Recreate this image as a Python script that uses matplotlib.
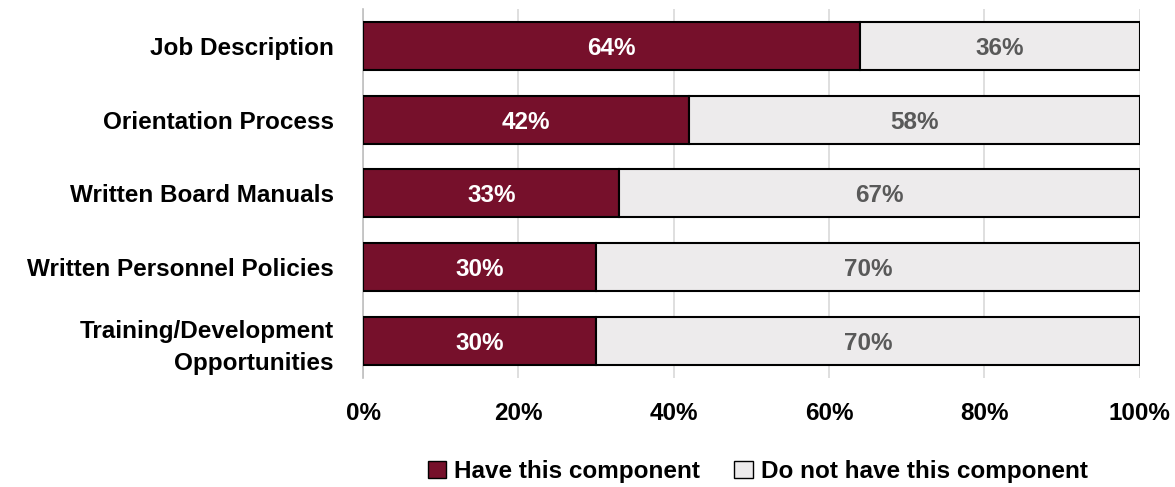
import numpy as np
import matplotlib.pyplot as plt
from matplotlib.patches import Patch

# Board orientation components (share of organisations)
categories = ['Job Description', 'Orientation Process', 'Written Board Manuals',
              'Written Personnel Policies', 'Training/Development\nOpportunities']
have = [64, 42, 33, 30, 30]
have_not = [36, 58, 67, 70, 70]
series_names = ['Have this component', 'Do not have this component']

plt.rcParams['font.family'] = ['Liberation Sans', 'DejaVu Sans']
plt.rcParams['font.weight'] = 'bold'

maroon = '#76102B'
light = '#EDEBEC'
fs = 17.5

fig = plt.figure(figsize=(11.75, 4.87), dpi=100)
ax = fig.add_axes([0.309, 0.224, 0.661, 0.758])

y = np.arange(len(categories))
bar_h = 0.65
b1 = ax.barh(y, have, height=bar_h, color=maroon, edgecolor='black', linewidth=1.5, zorder=3)
b2 = ax.barh(y, have_not, left=have, height=bar_h, color=light, edgecolor='black', linewidth=1.5, zorder=3)

for rect, v in zip(b1, have):
    ax.text(rect.get_x() + rect.get_width() / 2, rect.get_y() + rect.get_height() / 2,
            f'{v}%', ha='center', va='center_baseline', color='white', fontsize=fs,
            fontweight='bold', zorder=4)
for rect, v in zip(b2, have_not):
    ax.text(rect.get_x() + rect.get_width() / 2, rect.get_y() + rect.get_height() / 2,
            f'{v}%', ha='center', va='center_baseline', color='#595959', fontsize=fs,
            fontweight='bold', zorder=4)

ax.set_xlim(0, 100)
ax.set_ylim(len(categories) - 0.5, -0.5)
ax.set_xticks(np.arange(0, 101, 20))
ax.set_xticklabels([f'{t}%' for t in range(0, 101, 20)], fontsize=fs, fontweight='bold')
ax.set_yticks(y)
ax.set_yticklabels(categories, fontsize=fs, fontweight='bold', linespacing=1.45)
ax.tick_params(axis='y', length=0, pad=21)
ax.tick_params(axis='x', length=0, pad=17)

ax.grid(axis='x', color='#D9D9D9', linewidth=1.2, zorder=0)
for s in ['top', 'right', 'bottom']:
    ax.spines[s].set_visible(False)
ax.spines['left'].set_color('#BFBFBF')
ax.spines['left'].set_linewidth(1.2)

handles = [Patch(facecolor=maroon, edgecolor='black', label=series_names[0]),
           Patch(facecolor=light, edgecolor='black', label=series_names[1])]
fig.legend(handles=handles, loc='center', bbox_to_anchor=(0.645, 0.032), ncol=2, frameon=False,
           fontsize=fs, handlelength=0.75, handleheight=0.75, handletextpad=0.35, columnspacing=1.4)

fig.savefig('out.png', dpi=100)
